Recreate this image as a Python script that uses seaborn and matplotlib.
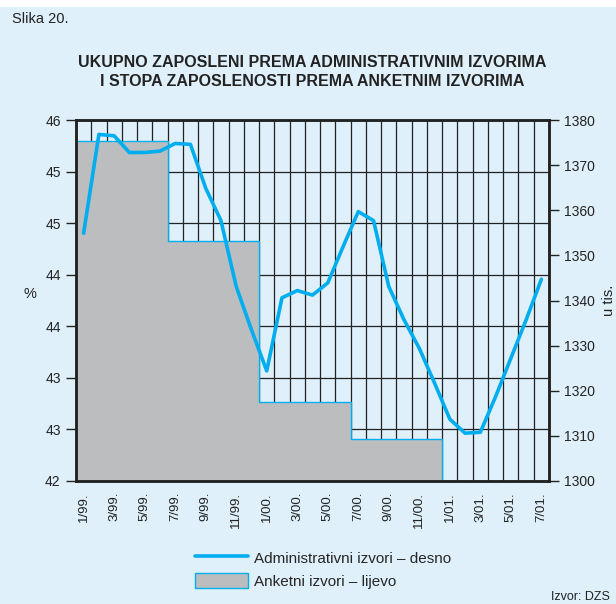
import numpy as np
import pandas as pd
import matplotlib
matplotlib.use("Agg")
import matplotlib.pyplot as plt
import seaborn as sns
from matplotlib.lines import Line2D
from matplotlib.patches import Patch, Rectangle
from matplotlib.ticker import FixedLocator, FuncFormatter

# monthly data 1/99 - 7/01
months = ['1/99.', '2/99.', '3/99.', '4/99.', '5/99.', '6/99.', '7/99.', '8/99.',
          '9/99.', '10/99.', '11/99.', '12/99.', '1/00.', '2/00.', '3/00.', '4/00.',
          '5/00.', '6/00.', '7/00.', '8/00.', '9/00.', '10/00.', '11/00.', '12/00.',
          '1/01.', '2/01.', '3/01.', '4/01.', '5/01.', '6/01.', '7/01.']

# administrativni izvori, u tis. (desna os)
admin_employed = [1354.9, 1376.8, 1376.5, 1372.8, 1372.8, 1373.1, 1374.8, 1374.6,
                  1364.9, 1357.7, 1343.1, 1333.5, 1324.4, 1340.6, 1342.2, 1341.2,
                  1343.9, 1351.9, 1359.7, 1357.7, 1343.1, 1335.7, 1329.4, 1321.7,
                  1313.7, 1310.6, 1310.8, 1318.7, 1327.2, 1335.7, 1344.7]

# anketni izvori, stopa zaposlenosti % (lijeva os), polugodista
survey_start = [0, 6, 12, 18]
survey_months = 6
survey_rate = [45.77, 44.66, 42.87, 42.47]

bg = '#dff0fa'
blue = '#00aeef'
gray = '#bcbdbf'
ink = '#222222'

sns.set_style("white")
plt.rcParams['font.family'] = ['Liberation Sans', 'DejaVu Sans']

fig = plt.figure(figsize=(6.16, 6.04), dpi=100)
fig.patch.set_facecolor(bg)
fig.patches.append(Rectangle((0, 1 - 7 / 604), 1, 7 / 604, transform=fig.transFigure,
                             facecolor='white', edgecolor='none', zorder=0))

ax = fig.add_axes([76 / 616, 1 - 481 / 604, 473 / 616, 361 / 604])
ax.set_facecolor(bg)

# gray step area
edges = survey_start + [survey_start[-1] + survey_months]
ax.fill_between(edges, 42, survey_rate + [survey_rate[-1]], step='post',
                facecolor=gray, edgecolor=blue, linewidth=1.0, zorder=2)

ax.set_xlim(0, len(months))
ax.set_ylim(42, 46)
left_ticks = np.linspace(42, 46, 8)
ax.set_yticks(left_ticks)
ax.yaxis.set_major_formatter(FuncFormatter(lambda v, p: f"{v:.0f}"))

ax.xaxis.set_major_locator(FixedLocator(np.arange(0, len(months), 2) + 0.5))
ax.set_xticklabels(months[::2], rotation=90)
ax.xaxis.set_minor_locator(FixedLocator(np.arange(0, len(months) + 1)))
ax.tick_params(axis='x', which='major', length=0, pad=8, labelsize=9.5, colors=ink)
ax.tick_params(axis='x', which='minor', direction='out', length=5, width=1, color=ink)
ax.tick_params(axis='y', which='major', direction='out', length=7, width=1,
               labelsize=10, colors=ink, pad=4)

ax.set_axisbelow(True)
ax.grid(True, axis='x', which='minor', color=ink, linewidth=0.9, zorder=0)
ax.grid(True, axis='y', which='major', color=ink, linewidth=0.9, zorder=0)
for s in ax.spines.values():
    s.set_color(ink)
    s.set_linewidth(1.8)

ax.set_ylabel('%', rotation=0, fontsize=10.5, color=ink)
ax.yaxis.set_label_coords(-0.097, 0.5)

# line on the right axis
ax2 = ax.twinx()
df = pd.DataFrame({'pos': np.arange(len(months)) + 0.5, 'admin': admin_employed})
sns.lineplot(data=df, x='pos', y='admin', ax=ax2, color=blue, linewidth=2.6, zorder=5)
ax2.set_ylim(1300, 1380)
ax2.set_yticks(np.arange(1300, 1381, 10))
ax2.tick_params(axis='y', direction='out', length=7, width=1, labelsize=10,
                colors=ink, pad=4)
ax2.set_xlabel('')
ax2.set_ylabel('u tis.', rotation=90, fontsize=10.5, color=ink)
ax2.yaxis.set_label_coords(1.112, 0.5)
ax2.grid(False)
for s in ax2.spines.values():
    s.set_color(ink)
    s.set_linewidth(1.8)

# texts
fig.text(12 / 616, 1 - 19 / 604, 'Slika 20.', fontsize=10.5, va='center', ha='left', color=ink)
fig.text(312 / 616, 1 - 72 / 604,
         'UKUPNO ZAPOSLENI PREMA ADMINISTRATIVNIM IZVORIMA\nI STOPA ZAPOSLENOSTI PREMA ANKETNIM IZVORIMA',
         fontsize=11.5, fontweight='bold', ha='center', va='center', linespacing=1.4, color=ink)
fig.text(610 / 616, 1 - 597 / 604, 'Izvor: DZS', fontsize=9, ha='right', va='center', color=ink)

handles = [Line2D([], [], color=blue, linewidth=2.6),
           Patch(facecolor=gray, edgecolor=blue, linewidth=1.0)]
fig.legend(handles, ['Administrativni izvori – desno', 'Anketni izvori – lijevo'],
           loc='upper left', bbox_to_anchor=(181 / 616, 1 - 536 / 604), frameon=False,
           fontsize=11, handlelength=3.5, handleheight=1.2, labelspacing=0.45,
           handletextpad=0.35)

fig.savefig('out.png', dpi=100, facecolor=fig.get_facecolor())
